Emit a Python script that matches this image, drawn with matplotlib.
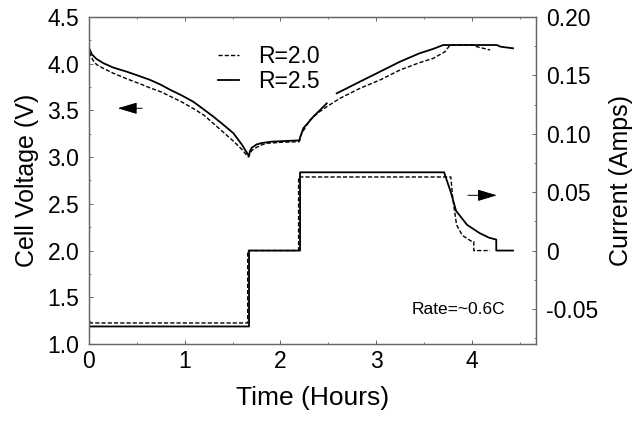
import matplotlib
matplotlib.use("Agg")
import matplotlib.pyplot as plt
from matplotlib.ticker import MultipleLocator
import numpy as np

plt.rcParams['font.family'] = ['Liberation Sans', 'DejaVu Sans']

# cell voltage, R=2.0 (dashed)
t_v20 = [0, 0.01, 0.04, 0.08, 0.15, 0.25, 0.39, 0.52, 0.64, 0.75, 0.85, 0.97, 1.09,
         1.20, 1.30, 1.40, 1.51, 1.60, 1.665, 1.672, 1.70, 1.735, 1.80, 1.857, 2.0,
         2.1, 2.195, 2.21, 2.223, 2.309, 2.40, 2.484, 2.623, 2.832, 3.041, 3.25,
         3.45, 3.598, 3.72, 3.772, 4.033, 4.051, 4.19]
v_20 = [4.12, 4.11, 4.04, 3.99, 3.95, 3.90, 3.84, 3.79, 3.74, 3.70, 3.65, 3.59, 3.52,
        3.45, 3.36, 3.27, 3.17, 3.08, 3.00, 3.02, 3.07, 3.095, 3.13, 3.148, 3.158,
        3.162, 3.165, 3.22, 3.255, 3.398, 3.48, 3.54, 3.63, 3.737, 3.826, 3.933,
        4.01, 4.058, 4.129, 4.20, 4.20, 4.182, 4.147]

# cell voltage, R=2.5 (solid); nan marks the break in the trace
t_v25 = [0, 0.03, 0.08, 0.15, 0.25, 0.39, 0.52, 0.64, 0.75, 0.85, 0.97, 1.09, 1.20,
         1.30, 1.40, 1.51, 1.60, 1.672, 1.68, 1.70, 1.75, 1.80, 1.90, 2.0, 2.1, 2.2,
         2.205, 2.24, 2.30, 2.35, 2.42, 2.484, 2.53, 2.588, 2.70, 2.831, 3.041, 3.25,
         3.45, 3.60, 3.70, 4.26, 4.30, 4.43]
v_25 = [4.17, 4.10, 4.05, 4.006, 3.96, 3.916, 3.87, 3.826, 3.775, 3.72, 3.66, 3.593,
        3.51, 3.433, 3.35, 3.255, 3.13, 3.01, 3.06, 3.10, 3.135, 3.15, 3.165, 3.17,
        3.175, 3.18, 3.21, 3.31, 3.38, 3.44, 3.51, 3.576, np.nan, 3.683, 3.74, 3.808,
        3.915, 4.022, 4.11, 4.16, 4.20, 4.20, 4.182, 4.165]

# current, R=2.0 (dashed)
t_i20 = [0, 1.658, 1.658, 2.19, 2.19, 3.78, 3.80, 3.84, 3.90, 4.00, 4.02, 4.02, 4.19]
i_20 = [-0.062, -0.062, 0, 0, 0.063, 0.063, 0.045, 0.022, 0.013, 0.0077, 0.0077, 0, 0]

# current, R=2.5 (solid)
t_i25 = [0, 1.672, 1.672, 2.205, 2.205, 3.71, 3.78, 3.835, 3.95, 4.08, 4.18, 4.255,
         4.255, 4.43]
i_25 = [-0.065, -0.065, 0, 0, 0.067, 0.067, 0.050, 0.034, 0.022, 0.015, 0.011, 0.0094,
        0, 0]

v_ticks = [1.0, 1.5, 2.0, 2.5, 3.0, 3.5, 4.0, 4.5]
v_labels = ['1.0', '1.5', '2.0', '2.5', '3.0', '3.5', '4.0', '4.5']
i_ticks = [-0.05, 0, 0.05, 0.10, 0.15, 0.20]
i_labels = ['-0.05', '0', '0.05', '0.10', '0.15', '0.20']

fig = plt.figure(figsize=(6.41, 4.28), dpi=100)
ax = fig.add_axes([0.1388, 0.1963, 0.6974, 0.764])
ax2 = ax.twinx()

ax.plot(t_v20, v_20, color='black', lw=1.0, ls=(0, (3, 1.5)), label='R=2.0')
ax.plot(t_v25, v_25, color='black', lw=1.3, label='R=2.5')
ax2.plot(t_i20, i_20, color='black', lw=1.0, ls=(0, (3, 1.5)))
ax2.plot(t_i25, i_25, color='black', lw=1.3)

ax.set_xlim(0, 4.67)
ax.set_ylim(1.0, 4.5)
ax2.set_ylim(-0.08, 0.20)

ax.xaxis.set_major_locator(MultipleLocator(1))
ax.xaxis.set_minor_locator(MultipleLocator(0.5))
ax.set_yticks(v_ticks)
ax.set_yticklabels(v_labels)
ax.yaxis.set_minor_locator(MultipleLocator(0.25))
ax2.set_yticks(i_ticks)
ax2.set_yticklabels(i_labels)
ax2.yaxis.set_minor_locator(MultipleLocator(0.025))

for a in (ax, ax2):
    for s in a.spines.values():
        s.set_color('#666666')
        s.set_linewidth(0.9)
    a.tick_params(which='both', direction='in', colors='#666666', labelcolor='black',
                  labelsize=16.5, top=True)
    a.tick_params(which='major', length=3, width=0.7)
    a.tick_params(which='minor', length=1.5, width=0.6)
ax.tick_params(axis='y', pad=7)
ax.tick_params(axis='x', pad=4)
ax2.tick_params(axis='y', pad=7)

ax.set_xlabel('Time (Hours)', fontsize=19, labelpad=10)
ax.set_ylabel('Cell Voltage (V)', fontsize=18, labelpad=6)
ax2.set_ylabel('Current (Amps)', fontsize=18, labelpad=8)

ax.legend(loc='upper left', bbox_to_anchor=(0.262, 0.95), frameon=False, fontsize=16.5,
          handlelength=0.95, handletextpad=0.8, labelspacing=0.1, borderpad=0)

ax.annotate('', xy=(0.272, 3.523), xytext=(0.585, 3.523),
            arrowprops=dict(arrowstyle='-|>,head_length=1.0,head_width=0.3',
                            color='black', lw=0.7, mutation_scale=12))
ax2.annotate('', xy=(4.29, 0.0473), xytext=(3.93, 0.0473),
             arrowprops=dict(arrowstyle='-|>,head_length=1.0,head_width=0.3',
                             color='black', lw=0.7, mutation_scale=12))

ax2.text(3.37, -0.0503, 'Rate=~0.6C', fontsize=12.5, va='center', ha='left')

fig.savefig('out.png', dpi=100)
